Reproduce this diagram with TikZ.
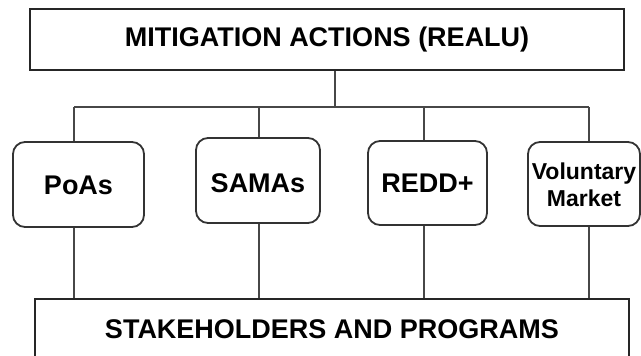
\documentclass[tikz,border=0pt]{standalone}
\usepackage{fontspec}
\setmainfont{Liberation Sans}
\newcommand{\lowerby}[2]{\raisebox{-#1}[\height][\depth]{#2}}
\begin{document}
\begin{tikzpicture}[x=1pt,y=1pt,
  lbl/.style={font=\bfseries\fontsize{27}{30}\selectfont},
  sqbox/.style={draw=black!85,line width=2pt,rectangle,inner sep=0pt,lbl},
  rbox/.style={draw=black!80,line width=1.8pt,rectangle,rounded corners=12pt,inner sep=0pt,lbl},
  conn/.style={draw=black!72,line width=1.6pt}]
\clip (0,0) rectangle (641,-356);
\node[sqbox,minimum width=594,minimum height=61] (top) at (327,-39.5) {MITIGATION ACTIONS (REALU)};
\node[sqbox,minimum width=594,minimum height=60] (bottom) at (332,-329) {STAKEHOLDERS AND PROGRAMS};
\node[rbox,minimum width=131,minimum height=85] (poas) at (78.5,-184.5) {\lowerby{1pt}{PoAs}};
\node[rbox,minimum width=124,minimum height=85] (samas) at (258,-180.5) {\lowerby{3pt}{SAMAs}};
\node[rbox,minimum width=119,minimum height=84] (redd) at (427.5,-183) {REDD+};
\node[rbox,minimum width=112,minimum height=84,font=\bfseries\fontsize{23}{27}\selectfont] (vol) at (584,-184) {\lowerby{4pt}{\begin{tabular}{@{}c@{}}Voluntary\\Market\end{tabular}}};
\coordinate (b0) at (335,-107);
\coordinate (b1) at (74,-107);
\coordinate (b2) at (259,-107);
\coordinate (b3) at (424,-107);
\coordinate (b4) at (589,-107);
\draw[conn] (top.south -| b0) -- (b0);
\draw[conn] (b1) -- (b4);
\draw[conn] (b1) -- (poas.north -| b1);
\draw[conn] (b2) -- (samas.north -| b2);
\draw[conn] (b3) -- (redd.north -| b3);
\draw[conn] (b4) -- (vol.north -| b4);
\draw[conn] (poas.south -| b1) -- (bottom.north -| b1);
\draw[conn] (samas.south -| b2) -- (bottom.north -| b2);
\draw[conn] (redd.south -| b3) -- (bottom.north -| b3);
\draw[conn] (vol.south -| b4) -- (bottom.north -| b4);
\end{tikzpicture}
\end{document}
